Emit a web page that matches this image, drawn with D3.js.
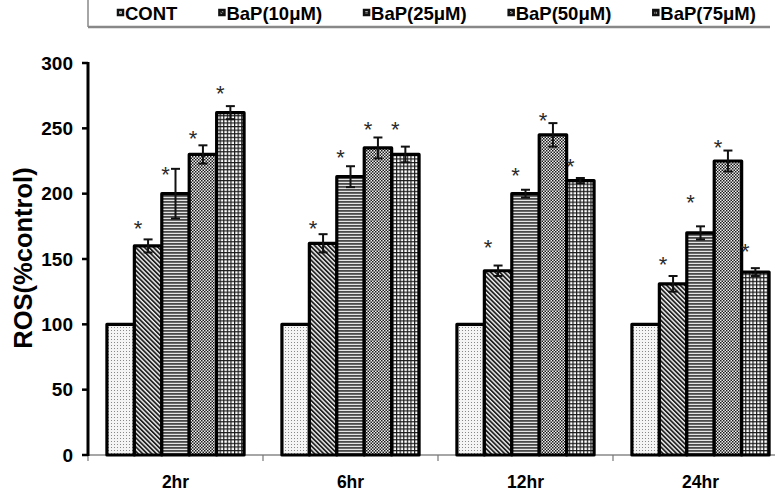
<!DOCTYPE html>
<html><head><meta charset="utf-8">
<script src="https://cdn.jsdelivr.net/npm/d3@7"></script>
<style>body{margin:0;background:#fff}svg{display:block}</style>
</head><body>
<svg id="c" width="775" height="493"></svg>
<script>
const categories = ["2hr","6hr","12hr","24hr"];
const seriesNames = ["CONT","BaP(10μM)","BaP(25μM)","BaP(50μM)","BaP(75μM)"];
const contValues  = [100,100,100,100];
const bap10Values = [160,162,141,131];
const bap25Values = [200,213,200,170];
const bap50Values = [230,235,245,225];
const bap75Values = [262,230,210,140];
const contErr  = [0,0,0,0];
const bap10Err = [5,7,4,6];
const bap25Err = [19,8,3,5];
const bap50Err = [7,8,9,8];
const bap75Err = [5,6,2,3];
// asterisk heights (data units), null = none
const contStar  = [null,null,null,null];
const bap10Star = [178,178,164,150.5];
const bap25Star = [219.6,233,219,198.5];
const bap50Star = [247,254,260.7,240.5];
const bap75Star = [281.6,254,226,160.7];
const yTicks = [0,50,100,150,200,250,300];
const yTitle = "ROS(%control)";

const values = [contValues,bap10Values,bap25Values,bap50Values,bap75Values];
const errs = [contErr,bap10Err,bap25Err,bap50Err,bap75Err];
const stars = [contStar,bap10Star,bap25Star,bap50Star,bap75Star];

const svg = d3.select("#c");
const defs = svg.append("defs");
const pIds = ["pDots","pDiag","pHoriz","pCheck","pGrid"];
let p;
p = defs.append("pattern").attr("id","pDots").attr("patternUnits","userSpaceOnUse").attr("width",3).attr("height",3);
p.append("rect").attr("width",3).attr("height",3).attr("fill","#f4f4f4");
p.append("rect").attr("x",0).attr("y",0).attr("width",1).attr("height",1).attr("fill","#888");
p = defs.append("pattern").attr("id","pDiag").attr("patternUnits","userSpaceOnUse").attr("width",3.2).attr("height",3.2).attr("patternTransform","rotate(-45)");
p.append("rect").attr("width",3.2).attr("height",3.2).attr("fill","#f4f4f4");
p.append("rect").attr("x",0).attr("y",0).attr("width",1.8).attr("height",3.2).attr("fill","#222");
p = defs.append("pattern").attr("id","pHoriz").attr("patternUnits","userSpaceOnUse").attr("width",4).attr("height",3);
p.append("rect").attr("width",4).attr("height",3).attr("fill","#e4e4e4");
p.append("rect").attr("x",0).attr("y",0).attr("width",4).attr("height",1.8).attr("fill","#4a4a4a");
p = defs.append("pattern").attr("id","pCheck").attr("patternUnits","userSpaceOnUse").attr("width",3).attr("height",3);
p.append("rect").attr("width",3).attr("height",3).attr("fill","#eee");
p.append("rect").attr("x",0).attr("y",0).attr("width",1.5).attr("height",1.5).attr("fill","#1a1a1a");
p.append("rect").attr("x",1.5).attr("y",1.5).attr("width",1.5).attr("height",1.5).attr("fill","#1a1a1a");
p = defs.append("pattern").attr("id","pGrid").attr("patternUnits","userSpaceOnUse").attr("width",3.6).attr("height",3.6);
p.append("rect").attr("width",3.6).attr("height",3.6).attr("fill","#fff");
p.append("rect").attr("x",0).attr("y",0).attr("width",3.6).attr("height",1.2).attr("fill","#1a1a1a");
p.append("rect").attr("x",0).attr("y",0).attr("width",1.2).attr("height",3.6).attr("fill","#1a1a1a");

const x0 = d3.scaleBand().domain(categories).range([88,788]).paddingInner(0).paddingOuter(0);
const x1 = d3.scaleBand().domain(seriesNames).range([0,x0.bandwidth()]).paddingInner(0).paddingOuter(0.69);
const y = d3.scaleLinear().domain([0,300]).range([455,63]);

const font = "'Liberation Sans', Arial, sans-serif";

// x axis (gray)
const xa = svg.append("g");
xa.append("line").attr("x1",88).attr("x2",775).attr("y1",y(0)).attr("y2",y(0)).attr("stroke","#888").attr("stroke-width",1.5);
const bounds = [x0.range()[0]].concat(categories.slice(1).map(c=>x0(c)));
xa.selectAll("line.t").data(bounds).join("line").attr("class","t")
  .attr("x1",d=>d).attr("x2",d=>d).attr("y1",y(0)).attr("y2",y(0)+6).attr("stroke","#777").attr("stroke-width",1.2);
xa.selectAll("text").data(categories).join("text")
  .attr("x",d=>x0(d)+x0.bandwidth()/2).attr("y",488)
  .attr("text-anchor","middle").attr("font-family",font).attr("font-weight","bold").attr("font-size",17.5)
  .text(d=>d);

// bars
const gBars = svg.append("g");
seriesNames.forEach((s,si)=>{
  const data = categories.map((c,ci)=>({c,v:values[si][ci]}));
  gBars.selectAll("rect.s"+si).data(data).join("rect").attr("class","s"+si)
    .attr("x",d=>x0(d.c)+x1(s)).attr("width",x1.bandwidth())
    .attr("y",d=>y(d.v)).attr("height",d=>y(0)-y(d.v))
    .attr("fill","url(#"+pIds[si]+")").attr("stroke","#000").attr("stroke-width",3.2).attr("stroke-linejoin","round");
});
// error bars + stars
seriesNames.forEach((s,si)=>{
  const data = categories.map((c,ci)=>({c,v:values[si][ci],e:errs[si][ci],st:stars[si][ci]}));
  const g = svg.append("g");
  const eb = data.filter(d=>d.e>0);
  const cx = d=>x0(d.c)+x1(s)+x1.bandwidth()/2;
  g.selectAll("line.v").data(eb).join("line").attr("class","v")
    .attr("x1",cx).attr("x2",cx).attr("y1",d=>y(d.v+d.e)).attr("y2",d=>y(d.v-d.e)).attr("stroke","#111").attr("stroke-width",2);
  g.selectAll("line.h1").data(eb).join("line").attr("class","h1")
    .attr("x1",d=>cx(d)-4.5).attr("x2",d=>cx(d)+4.5).attr("y1",d=>y(d.v+d.e)).attr("y2",d=>y(d.v+d.e)).attr("stroke","#111").attr("stroke-width",2);
  g.selectAll("line.h2").data(eb).join("line").attr("class","h2")
    .attr("x1",d=>cx(d)-4.5).attr("x2",d=>cx(d)+4.5).attr("y1",d=>y(d.v-d.e)).attr("y2",d=>y(d.v-d.e)).attr("stroke","#111").attr("stroke-width",2);
  g.selectAll("text").data(data.filter(d=>d.st!=null)).join("text")
    .attr("x",d=>cx(d)-10).attr("y",d=>y(d.st)+14)
    .attr("text-anchor","middle").attr("font-family",font).attr("font-size",22).attr("fill","#2a2a2a")
    .text("*");
});

// y axis (thick black)
const ya = svg.append("g");
ya.append("line").attr("x1",88).attr("x2",88).attr("y1",y(300)-1).attr("y2",y(0)+1).attr("stroke","#000").attr("stroke-width",3);
ya.selectAll("line.t").data(yTicks).join("line").attr("class","t")
  .attr("x1",82).attr("x2",88).attr("y1",d=>y(d)).attr("y2",d=>y(d)).attr("stroke","#000").attr("stroke-width",2.5);
ya.selectAll("text").data(yTicks).join("text")
  .attr("x",73).attr("y",d=>y(d)+6.5).attr("text-anchor","end")
  .attr("font-family",font).attr("font-weight","bold").attr("font-size",19).text(d=>d);
svg.append("text").attr("transform","translate(32,258) rotate(-90)").attr("text-anchor","middle")
  .attr("font-family",font).attr("font-weight","bold").attr("font-size",25.5).text(yTitle);

// legend
const lg = svg.append("g");
lg.append("line").attr("x1",88).attr("x2",770).attr("y1",27).attr("y2",27).attr("stroke","#888").attr("stroke-width",2.5);
lg.append("line").attr("x1",88).attr("x2",88).attr("y1",0).attr("y2",27).attr("stroke","#888").attr("stroke-width",1.5);
let lx = 117;
seriesNames.forEach((s,si)=>{
  lg.append("rect").attr("x",lx+1).attr("y",10).attr("width",5).attr("height",5)
    .attr("fill","url(#"+pIds[si]+")").attr("stroke","#111").attr("stroke-width",2.5);
  const t = lg.append("text").attr("x",lx+8).attr("y",19.5).attr("font-family",font).attr("font-weight","bold").attr("font-size",18.5).text(s);
  const w = t.node().getComputedTextLength();
  lx += 8 + w + 41;
});
</script>
</body></html>
